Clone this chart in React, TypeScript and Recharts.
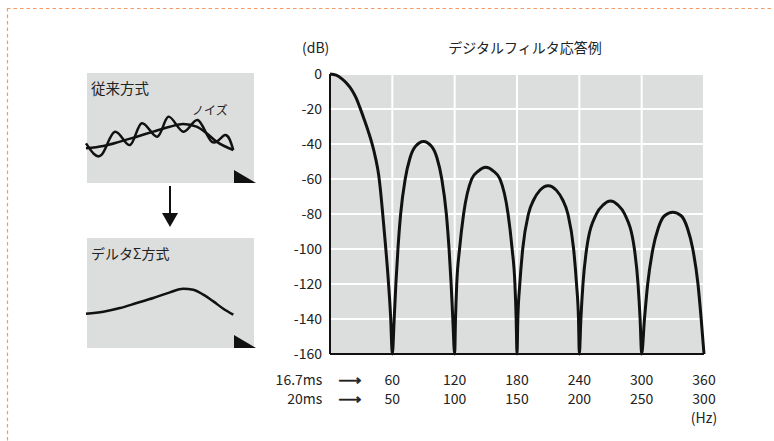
import {
  LineChart,
  Line,
  XAxis,
  YAxis,
  CartesianGrid,
  ReferenceDot,
} from "recharts"

// main response curve (Hz at 16.7ms scale, dB)
const freq = [
  0, 6, 11.5, 16, 21, 25, 29, 33, 37, 40.4, 44, 46.8, 48.6, 50.3, 53.3, 56, 58.3, 60,
  61.8, 63.4, 65.4, 68, 72.4, 77, 82, 90, 98, 103, 107.6, 112, 114.6, 116.6, 118.2, 120,
  120.8, 122, 124.7, 128.6, 136.4, 143, 150, 157, 163.6, 171.4, 175.3, 178, 179.2, 180,
  180.8, 182.7, 185.5, 191, 196, 202, 210, 218, 224, 229, 234.5, 237.3, 239.2, 240,
  241.5, 243.5, 247, 256.4, 263, 270, 277, 283.6, 293, 296.5, 298.5, 300,
  302.7, 305.8, 310.8, 316, 322, 330, 338, 344, 349.2, 354.2, 357.3, 360,
]
const level = [
  0, -0.7, -2.8, -5.3, -9.1, -13.5, -19.5, -26.1, -33.1, -39.7, -48.5, -57.5, -66.5, -77, -97, -117, -138, -160,
  -140, -120, -100, -80, -60, -48, -41.5, -38.5, -41.5, -48, -60, -80, -100, -120, -140, -160,
  -140, -120, -100, -80, -60, -55.3, -53.3, -55.3, -60, -80, -100, -120, -140, -160,
  -140, -120, -100, -80, -72, -66.5, -63.8, -66.5, -72, -80, -100, -120, -140, -160,
  -140, -120, -100, -80, -74.8, -72.6, -74.8, -80, -100, -120, -140, -160,
  -140, -120, -100, -88, -81, -79, -81, -88, -100, -120, -140, -160,
]

const hzTicks = [60, 120, 180, 240, 300, 360]
const hz50Labels = ["50", "100", "150", "200", "250", "300"]
const dbTicks = [0, -20, -40, -60, -80, -100, -120, -140, -160]

// left schematic sketches (arbitrary units)
const noiseX = [0, 1.1, 2.06, 3.13, 3.96, 5.06, 5.85, 6.91, 7.93, 8.93, 9.87, 10.46]
const noiseY = [3.6, 2.55, 4.66, 3.45, 5.43, 4.2, 6.03, 4.66, 5.73, 3.75, 4.36, 3.0]
const trendX = [0, 1.23, 2.41, 3.6, 4.78, 5.96, 6.91, 7.85, 8.56, 9.27, 10.46]
const trendY = [3.15, 3.36, 3.76, 4.21, 4.67, 5.12, 5.36, 5.12, 4.52, 3.76, 3.0]
const deltaX = [0, 1.23, 2.41, 3.6, 4.78, 5.96, 6.91, 7.62, 8.33, 9.04, 9.75, 10.46]
const deltaY = [3.12, 3.3, 3.63, 4.09, 4.54, 5.06, 5.39, 5.3, 4.85, 4.24, 3.57, 3.03]
const sketchTicks = [1, 2, 3, 4, 5, 6, 7, 8, 9, 10, 11]

const responseData = freq.map((f, i) => ({ f, db: level[i] }))
const noiseData = noiseX.map((x, i) => ({ x, y: noiseY[i] }))
const trendData = trendX.map((x, i) => ({ x, y: trendY[i] }))
const deltaData = deltaX.map((x, i) => ({ x, y: deltaY[i] }))

const FONT = '"Noto Sans CJK JP", "Noto Sans", sans-serif'
const GRAY = "#dcdddd"
const INK = "#111"
const BORDER = "#f59a62"

function HzTick(props: any) {
  const { x, y, payload } = props
  const i = hzTicks.indexOf(payload.value)
  return (
    <g fontFamily={FONT} fontSize={14} fill="#222">
      <text x={x} y={y + 31} textAnchor="middle">{payload.value}</text>
      <text x={x} y={y + 50} textAnchor="middle">{hz50Labels[i]}</text>
      {i === 0 && (
        <>
          <text x={x - 70} y={y + 31} textAnchor="end">16.7ms</text>
          <text x={x - 70} y={y + 50} textAnchor="end">20ms</text>
          <text x={x - 54} y={y + 31} fontFamily="DejaVu Sans" stroke="#222" strokeWidth={0.6} textLength={23} lengthAdjust="spacingAndGlyphs">⟶</text>
          <text x={x - 54} y={y + 50} fontFamily="DejaVu Sans" stroke="#222" strokeWidth={0.6} textLength={23} lengthAdjust="spacingAndGlyphs">⟶</text>
        </>
      )}
      {i === hzTicks.length - 1 && (
        <text x={x} y={y + 69} textAnchor="middle">(Hz)</text>
      )}
    </g>
  )
}

function Sketch({ top, lines }: { top: number; lines: { data: any[]; curve: any }[] }) {
  return (
    <div style={{ position: "absolute", left: 82, top: top - 4 }}>
      <LineChart width={177} height={118} margin={{ top: 4, right: 4, bottom: 4, left: 4 }}>
        <CartesianGrid fill={GRAY} fillOpacity={1} horizontal={false} stroke="#fff" strokeWidth={2} />
        <XAxis type="number" dataKey="x" domain={[0, 12]} ticks={sketchTicks} height={0} tick={false} tickLine={false} axisLine={{ stroke: INK, strokeWidth: 2 }} />
        <YAxis type="number" dataKey="y" domain={[0, 10]} width={0} tick={false} tickLine={false} axisLine={{ stroke: INK, strokeWidth: 2 }} />
        {lines.map((l, i) => (
          <Line key={i} data={l.data} dataKey="y" type={l.curve} stroke={INK} strokeWidth={2.5} dot={false} isAnimationActive={false} />
        ))}
        <ReferenceDot
          x={12}
          y={0}
          shape={(p: any) => (
            <polygon points={`${p.cx - 21},${p.cy - 13} ${p.cx - 21},${p.cy} ${p.cx + 1},${p.cy}`} fill={INK} />
          )}
        />
      </LineChart>
    </div>
  )
}

export default function App() {
  const label = (left: number, top: number, size: number, text: string, extra: any = {}) => (
    <div style={{ position: "absolute", left, top, fontSize: size, lineHeight: `${size}px`, fontFamily: FONT, color: "#222", whiteSpace: "nowrap", ...extra }}>
      {text}
    </div>
  )
  return (
    <div style={{ position: "absolute", left: 0, top: 0, width: 774, height: 441, background: "#fff", overflow: "hidden" }}>
      <svg width={774} height={441} style={{ position: "absolute", left: 0, top: 0 }}>
        <line x1={7} y1={8.5} x2={774} y2={8.5} stroke={BORDER} strokeWidth={1.2} strokeDasharray="3.5 3" />
        <line x1={7.5} y1={8} x2={7.5} y2={441} stroke={BORDER} strokeWidth={1.2} strokeDasharray="3.5 3" />
        <line x1={170} y1={186} x2={170} y2={214} stroke={INK} strokeWidth={2} />
        <polygon points="162,213 178,213 170,227" fill={INK} />
      </svg>

      <div style={{ position: "absolute", left: 0, top: 0 }}>
        <LineChart width={774} height={441} data={responseData} margin={{ top: 74, right: 70, bottom: 37, left: 270 }}>
          <CartesianGrid fill={GRAY} fillOpacity={1} stroke="#fff" strokeWidth={2} />
          <XAxis
            type="number"
            dataKey="f"
            domain={[0, 360]}
            ticks={hzTicks}
            height={50}
            tickLine={false}
            tickSize={0}
            tickMargin={0}
            axisLine={{ stroke: INK, strokeWidth: 2 }}
            tick={<HzTick />}
          />
          <YAxis
            type="number"
            domain={[-160, 0]}
            ticks={dbTicks}
            width={60}
            tickLine={false}
            axisLine={{ stroke: INK, strokeWidth: 2 }}
            tick={{ fontSize: 14, fill: "#222", fontFamily: FONT }}
          />
          <Line dataKey="db" type="monotone" stroke={INK} strokeWidth={3} dot={false} isAnimationActive={false} />
        </LineChart>
      </div>

      {label(302, 40, 14, "(dB)")}
      {label(425, 40, 14, "デジタルフィルタ応答例", { width: 200, textAlign: "center" })}

      <Sketch top={73} lines={[{ data: noiseData, curve: "natural" }, { data: trendData, curve: "monotone" }]} />
      <Sketch top={238} lines={[{ data: deltaData, curve: "monotone" }]} />

      {label(91, 81, 14.5, "従来方式")}
      {label(192, 104, 12, "ノイズ")}
      {label(91, 246, 14, "デルタΣ方式")}
    </div>
  )
}
